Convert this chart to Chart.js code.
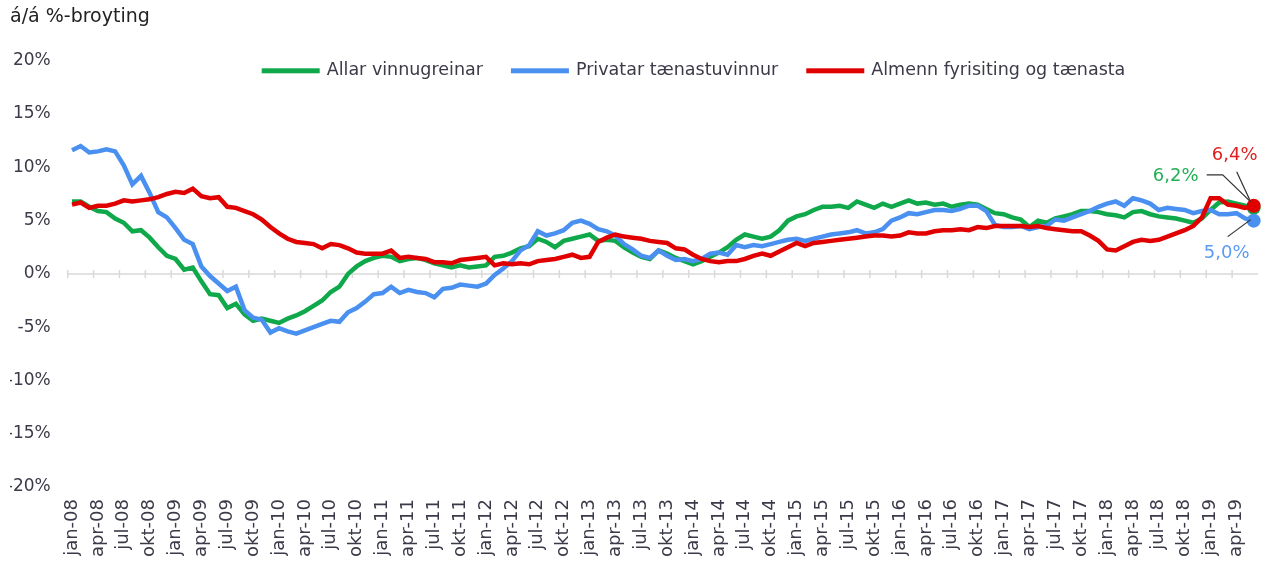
<!DOCTYPE html>
<html>
<head>
<meta charset="utf-8">
<script src="https://cdn.jsdelivr.net/npm/chart.js@4"></script>
<style>
  html, body { margin: 0; padding: 0; background: #fff; }
  #wrap { width: 1265px; height: 561px; }
</style>
</head>
<body>
<div id="wrap"><canvas id="chart"></canvas></div>
<script>
const monthNames = ['jan', 'feb', 'mar', 'apr', 'mai', 'jun', 'jul', 'aug', 'sep', 'okt', 'nov', 'des'];
const years = ['08', '09', '10', '11', '12', '13', '14', '15', '16', '17', '18', '19'];
const lastMonthIndex = 5; // jun-19

const labels = [];
years.forEach((yy, yi) => {
  monthNames.forEach((m, mi) => {
    if (yi < years.length - 1 || mi <= lastMonthIndex) labels.push(m + '-' + yy);
  });
});

const yTicks = [-20, -15, -10, -5, 0, 5, 10, 15, 20];

const allarVinnugreinar = [6.8, 6.8, 6.3, 5.9, 5.8, 5.2, 4.8, 4.0, 4.1, 3.4,
  2.5, 1.7, 1.4, 0.4, 0.6, -0.7, -1.9, -2.0, -3.2, -2.8,
  -3.8, -4.4, -4.2, -4.4, -4.6, -4.2, -3.9, -3.5, -3.0, -2.5,
  -1.7, -1.2, 0.0, 0.7, 1.2, 1.5, 1.7, 1.6, 1.2, 1.4,
  1.5, 1.3, 1.0, 0.8, 0.6, 0.8, 0.6, 0.7, 0.8, 1.6,
  1.7, 2.0, 2.4, 2.6, 3.3, 3.0, 2.5, 3.1, 3.3, 3.5,
  3.7, 3.1, 3.2, 3.1, 2.5, 2.0, 1.6, 1.4, 2.2, 1.9,
  1.5, 1.2, 0.9, 1.2, 1.6, 2.0, 2.5, 3.2, 3.7, 3.5,
  3.3, 3.5, 4.1, 5.0, 5.4, 5.6, 6.0, 6.3, 6.3, 6.4,
  6.2, 6.8, 6.5, 6.2, 6.6, 6.3, 6.6, 6.9, 6.6, 6.7,
  6.5, 6.6, 6.3, 6.5, 6.6, 6.5, 6.1, 5.7, 5.6, 5.3,
  5.1, 4.4, 5.0, 4.8, 5.2, 5.4, 5.6, 5.9, 5.9, 5.8,
  5.6, 5.5, 5.3, 5.8, 5.9, 5.6, 5.4, 5.3, 5.2, 5.0,
  4.8, 5.2, 6.0, 6.7, 6.8, 6.6, 6.4, 6.2];

const privatarTaenastuvinnur = [11.6, 12.0, 11.4, 11.5, 11.7, 11.5, 10.2, 8.4, 9.2, 7.6,
  5.8, 5.3, 4.3, 3.2, 2.8, 0.7, -0.2, -0.9, -1.6, -1.2,
  -3.4, -4.1, -4.3, -5.5, -5.1, -5.4, -5.6, -5.3, -5.0, -4.7,
  -4.4, -4.5, -3.6, -3.2, -2.6, -1.9, -1.8, -1.2, -1.8, -1.5,
  -1.7, -1.8, -2.2, -1.4, -1.3, -1.0, -1.1, -1.2, -0.9, -0.1,
  0.5, 1.2, 2.2, 2.7, 4.0, 3.6, 3.8, 4.1, 4.8, 5.0,
  4.7, 4.2, 4.0, 3.6, 2.8, 2.3, 1.7, 1.5, 2.2, 1.7,
  1.3, 1.4, 1.2, 1.4, 1.9, 2.0, 1.8, 2.7, 2.5, 2.7,
  2.6, 2.8, 3.0, 3.2, 3.3, 3.1, 3.3, 3.5, 3.7, 3.8,
  3.9, 4.1, 3.8, 3.9, 4.2, 5.0, 5.3, 5.7, 5.6, 5.8,
  6.0, 6.0, 5.9, 6.1, 6.4, 6.4, 5.9, 4.6, 4.4, 4.4,
  4.5, 4.2, 4.4, 4.5, 5.1, 5.0, 5.3, 5.6, 5.9, 6.3,
  6.6, 6.8, 6.4, 7.1, 6.9, 6.6, 6.0, 6.2, 6.1, 6.0,
  5.7, 5.9, 6.0, 5.6, 5.6, 5.7, 5.2, 5.0];

const almennFyrisiting = [6.5, 6.7, 6.2, 6.4, 6.4, 6.6, 6.9, 6.8, 6.9, 7.0,
  7.2, 7.5, 7.7, 7.6, 8.0, 7.3, 7.1, 7.2, 6.3, 6.2,
  5.9, 5.6, 5.1, 4.4, 3.8, 3.3, 3.0, 2.9, 2.8, 2.4,
  2.8, 2.7, 2.4, 2.0, 1.9, 1.9, 1.9, 2.2, 1.5, 1.6,
  1.5, 1.4, 1.1, 1.1, 1.0, 1.3, 1.4, 1.5, 1.6, 0.8,
  1.0, 0.9, 1.0, 0.9, 1.2, 1.3, 1.4, 1.6, 1.8, 1.5,
  1.6, 3.0, 3.4, 3.7, 3.5, 3.4, 3.3, 3.1, 3.0, 2.9,
  2.4, 2.3, 1.8, 1.4, 1.2, 1.1, 1.2, 1.2, 1.4, 1.7,
  1.9, 1.7, 2.1, 2.5, 2.9, 2.6, 2.9, 3.0, 3.1, 3.2,
  3.3, 3.4, 3.5, 3.6, 3.6, 3.5, 3.6, 3.9, 3.8, 3.8,
  4.0, 4.1, 4.1, 4.2, 4.1, 4.4, 4.3, 4.5, 4.5, 4.5,
  4.5, 4.4, 4.5, 4.3, 4.2, 4.1, 4.0, 4.0, 3.6, 3.1,
  2.3, 2.2, 2.6, 3.0, 3.2, 3.1, 3.2, 3.5, 3.8, 4.1,
  4.5, 5.3, 7.1, 7.1, 6.5, 6.4, 6.2, 6.4];

const FONT = 'DejaVu Sans';
const TEXT = '#3a3a48';
const GREEN = '#0fa84a';
const BLUE = '#4a90f0';
const RED = '#e00000';

const lastOnly = (r) => (ctx) => ctx.dataIndex === labels.length - 1 ? r : 0;

// zero line with tick marks every quarter, like the category axis crossing at 0
const zeroAxis = {
  id: 'zeroAxis',
  beforeDatasetsDraw(chart) {
    const { ctx, chartArea, scales: { x, y } } = chart;
    const y0 = y.getPixelForValue(0);
    const half = (x.getPixelForValue(1) - x.getPixelForValue(0)) / 2;
    ctx.save();
    ctx.strokeStyle = '#d9d9d9';
    ctx.lineWidth = 1.5;
    ctx.beginPath();
    ctx.moveTo(chartArea.left, y0);
    ctx.lineTo(chartArea.right, y0);
    for (let i = 0; i < labels.length; i += 3) {
      const px = x.getPixelForValue(i) - half;
      ctx.moveTo(px, y0 - 4);
      ctx.lineTo(px, y0 + 4);
    }
    ctx.stroke();
    ctx.restore();
  }
};

// one-row legend sitting inside the plot, near the top
const legendRow = {
  id: 'legendRow',
  afterDraw(chart) {
    const { ctx, chartArea } = chart;
    ctx.save();
    ctx.font = '17.5px "' + FONT + '"';
    ctx.textBaseline = 'middle';
    ctx.textAlign = 'left';
    let x = chartArea.left + 194;
    const y = chartArea.top + 10;
    chart.data.datasets.forEach(d => {
      ctx.fillStyle = d.borderColor;
      ctx.fillRect(x, y - 2.5, 58, 5);
      ctx.fillStyle = TEXT;
      ctx.fillText(d.label, x + 65, y);
      x += 65 + ctx.measureText(d.label).width + 28;
    });
    ctx.restore();
  }
};

// value labels with leader lines at the last point
const endLabels = {
  id: 'endLabels',
  afterDatasetsDraw(chart) {
    const { ctx } = chart;
    const spec = [
      { ds: 0, color: '#22b055', tx: -78, ty: -32, path: [[-47, -33], [-31, -33], [-3, -6]] },
      { ds: 2, color: '#e02020', tx: -19, ty: -50, path: [[-17, -34], [-4, -6]] },
      { ds: 1, color: '#5b9cf2', tx: -27, ty: 33, path: [[-26, 16], [-3, -1]] }
    ];
    ctx.save();
    spec.forEach(s => {
      const data = chart.data.datasets[s.ds].data;
      const pt = chart.getDatasetMeta(s.ds).data[data.length - 1];
      ctx.strokeStyle = '#303030';
      ctx.lineWidth = 1.2;
      ctx.beginPath();
      s.path.forEach(([dx, dy], k) => {
        if (k === 0) ctx.moveTo(pt.x + dx, pt.y + dy);
        else ctx.lineTo(pt.x + dx, pt.y + dy);
      });
      ctx.stroke();
      ctx.fillStyle = s.color;
      ctx.font = '18px "' + FONT + '"';
      ctx.textAlign = 'center';
      ctx.textBaseline = 'middle';
      const txt = data[data.length - 1].toFixed(1).replace('.', ',') + '%';
      ctx.fillText(txt, pt.x + s.tx, pt.y + s.ty);
    });
    ctx.restore();
  }
};

new Chart(document.getElementById('chart'), {
  type: 'line',
  data: {
    labels: labels,
    datasets: [{
      label: 'Allar vinnugreinar',
      data: allarVinnugreinar,
      borderColor: GREEN,
      backgroundColor: GREEN,
      borderWidth: 4.5,
      pointRadius: lastOnly(7),
      pointBackgroundColor: GREEN,
      pointBorderWidth: 0,
      order: 2
    }, {
      label: 'Privatar tænastuvinnur',
      data: privatarTaenastuvinnur,
      borderColor: BLUE,
      backgroundColor: BLUE,
      borderWidth: 4.5,
      pointRadius: lastOnly(7),
      pointBackgroundColor: BLUE,
      pointBorderWidth: 0,
      order: 1
    }, {
      label: 'Almenn fyrisiting og tænasta',
      data: almennFyrisiting,
      borderColor: RED,
      backgroundColor: RED,
      borderWidth: 4.5,
      pointRadius: lastOnly(7),
      pointBackgroundColor: RED,
      pointBorderWidth: 0,
      order: 0
    }]
  },
  options: {
    responsive: true,
    maintainAspectRatio: false,
    animation: false,
    layout: { padding: { left: 10, right: 1, top: 0, bottom: 0 } },
    plugins: {
      tooltip: { enabled: false },
      legend: { display: false },
      title: {
        display: true,
        text: 'á/á %-broyting',
        align: 'start',
        color: '#222222',
        font: { family: FONT, size: 19, weight: 'normal' },
        padding: { top: 6, bottom: 32 }
      }
    },
    scales: {
      x: {
        offset: true,
        grid: { display: false, drawTicks: false },
        border: { display: false },
        afterFit: (scale) => {
          scale.height = 74;
          scale.paddingLeft = 0;
          scale.paddingRight = 0;
        },
        ticks: {
          autoSkip: false,
          minRotation: 90,
          maxRotation: 90,
          padding: 12,
          color: TEXT,
          font: { family: FONT, size: 18 },
          callback: (v, i) => (i % 3 === 0 ? labels[i] : '')
        }
      },
      y: {
        min: yTicks[0],
        max: yTicks[yTicks.length - 1],
        afterBuildTicks: (scale) => { scale.ticks = yTicks.map(v => ({ value: v })); },
        afterFit: (scale) => { scale.width = 57.7; },
        grid: { display: false, drawTicks: false },
        border: { display: false },
        ticks: {
          padding: 17,
          color: TEXT,
          font: { family: FONT, size: 17 },
          callback: (v) => v + '%'
        }
      }
    }
  },
  plugins: [zeroAxis, legendRow, endLabels]
});
</script>
</body>
</html>
